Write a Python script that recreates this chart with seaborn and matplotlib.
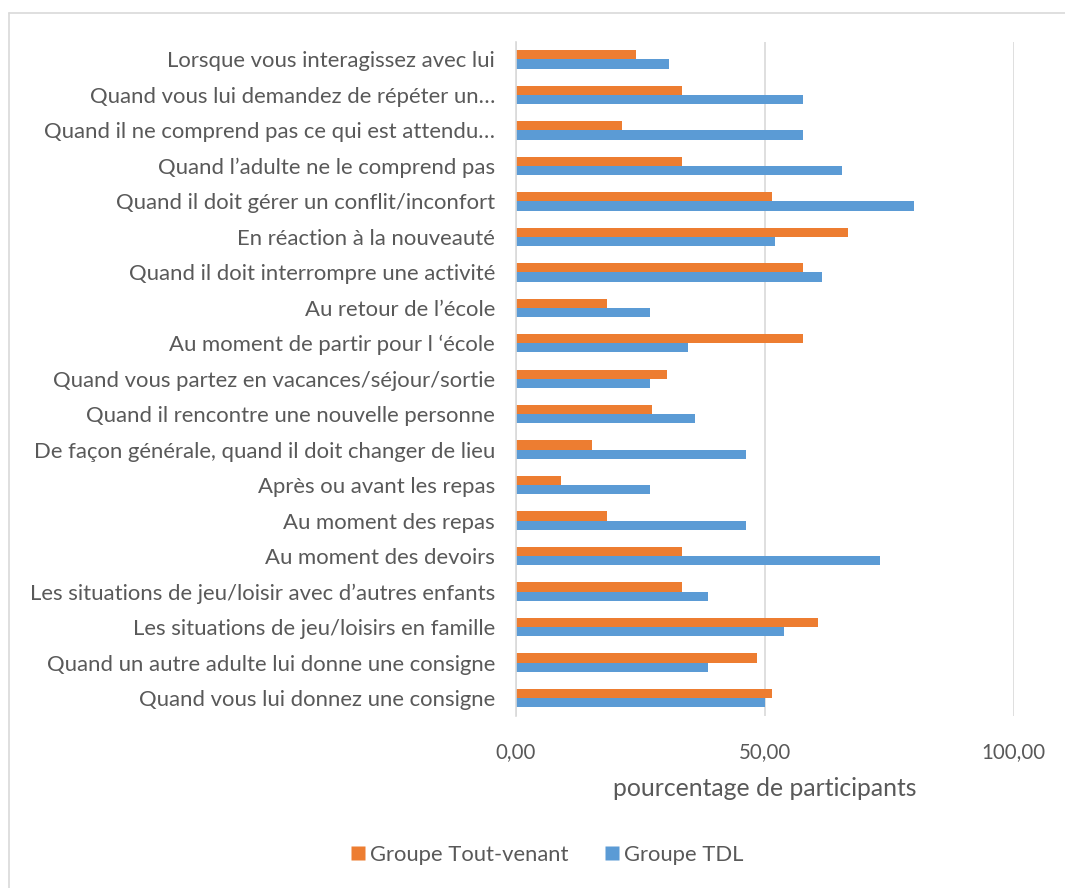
import matplotlib
matplotlib.use("Agg")
import matplotlib.pyplot as plt
import seaborn as sns
import pandas as pd
from matplotlib.lines import Line2D

situations = [
    "Lorsque vous interagissez avec lui",
    "Quand vous lui demandez de répéter un…",
    "Quand il ne comprend pas ce qui est attendu…",
    "Quand l’adulte ne le comprend pas",
    "Quand il doit gérer un conflit/inconfort",
    "En réaction à la nouveauté",
    "Quand il doit interrompre une activité",
    "Au retour de l’école",
    "Au moment de partir pour l ‘école",
    "Quand vous partez en vacances/séjour/sortie",
    "Quand il rencontre une nouvelle personne",
    "De façon générale, quand il doit changer de lieu",
    "Après ou avant les repas",
    "Au moment des repas",
    "Au moment des devoirs",
    "Les situations de jeu/loisir avec d’autres enfants",
    "Les situations de jeu/loisirs en famille",
    "Quand un autre adulte lui donne une consigne",
    "Quand vous lui donnez une consigne",
]
tout_venant = [24.2, 33.3, 21.2, 33.3, 51.5, 66.7, 57.6, 18.2, 57.6, 30.3,
               27.3, 15.2, 9.1, 18.2, 33.3, 33.3, 60.6, 48.5, 51.5]
tdl = [30.8, 57.7, 57.7, 65.4, 80.0, 52.0, 61.5, 26.9, 34.6, 26.9,
       36.0, 46.2, 26.9, 46.2, 73.1, 38.5, 53.8, 38.5, 50.0]
groups = ["Groupe Tout-venant", "Groupe TDL"]
colors = ["#ED7D31", "#5B9BD5"]
xticks = [0, 50, 100]
xticklabels = ["0,00", "50,00", "100,00"]

df = pd.DataFrame({
    "situation": situations * 2,
    "valeur": tout_venant + tdl,
    "groupe": [groups[0]] * len(situations) + [groups[1]] * len(situations),
})

sns.set_style("white")
plt.rcParams["font.family"] = ["Lato", "DejaVu Sans"]
txt = "#595959"

fig = plt.figure(figsize=(10.65, 8.88), dpi=100)
ax = fig.add_axes([0.4845, 0.194, 0.4675, 0.759])
sns.barplot(data=df, y="situation", x="valeur", hue="groupe", orient="h",
            palette=colors, width=0.52, ax=ax, legend=False,
            saturation=1, edgecolor="none")
ax.set_xlim(0, 100)
ax.set_ylim(len(situations) - 0.5, -0.5)
ax.set_xticks(xticks)
ax.set_xticklabels(xticklabels)
ax.xaxis.grid(True, color="#D9D9D9", linewidth=1.2)
ax.set_axisbelow(True)
for s in ["top", "right", "bottom"]:
    ax.spines[s].set_visible(False)
ax.spines["left"].set_color("#D9D9D9")
ax.spines["left"].set_linewidth(1.2)
ax.tick_params(axis="y", length=0, pad=15, labelsize=15.9, labelcolor=txt)
ax.tick_params(axis="x", length=0, pad=19, labelsize=14.8, labelcolor=txt)
ax.set_ylabel("")
ax.set_xlabel("pourcentage de participants", fontsize=17.8, color=txt, labelpad=11)

handles = [Line2D([], [], linestyle="none", marker="s", markersize=10,
                  markerfacecolor=c, markeredgecolor="none") for c in colors]
fig.legend(handles, groups, loc="center", bbox_to_anchor=(0.5136, 0.037), ncol=2,
           frameon=False, fontsize=15.8, handlelength=0.7,
           handletextpad=0.2, columnspacing=1.6, labelcolor=txt)

# chart-area border (top and left edges visible in the reference crop)
fig.add_artist(Line2D([0.0082, 1.0], [0.9854, 0.9854], transform=fig.transFigure,
                      color="#D9D9D9", linewidth=1.2))
fig.add_artist(Line2D([0.0082, 0.0082], [0.0, 0.9854], transform=fig.transFigure,
                      color="#D9D9D9", linewidth=1.2))
fig.savefig("out.png", dpi=100)
